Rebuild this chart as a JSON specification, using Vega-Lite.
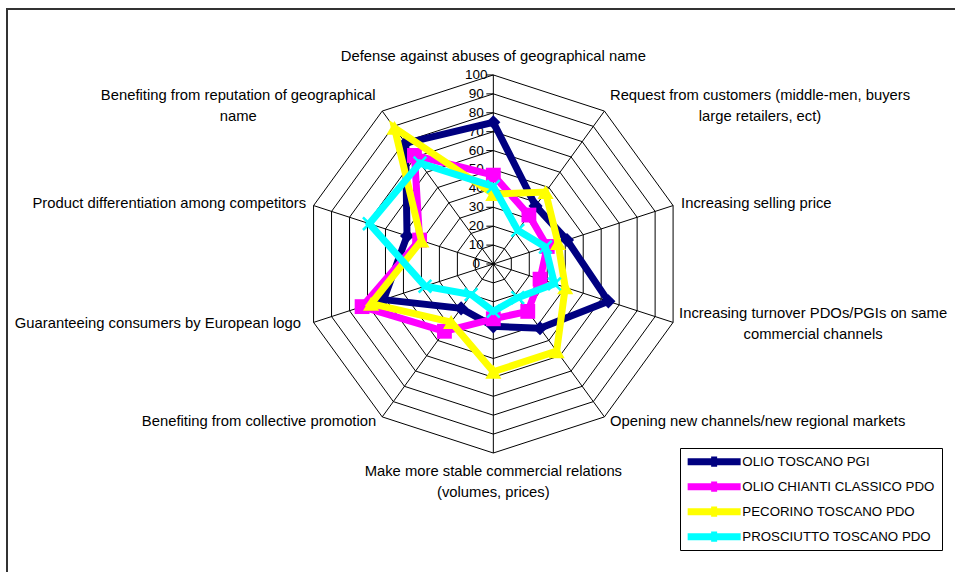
{
"$schema":"https://vega.github.io/schema/vega-lite/v6.json",
"width":953,"height":568,
"autosize":{"type":"none"},
"padding":{"left":7,"top":9,"right":-5,"bottom":-5},
"background":"white",
"config":{
 "view":{"stroke":"#333333","strokeWidth":2},
 "text":{"font":"Liberation Sans","fontSize":14.8,"color":"black"}
},
"datasets":{
 "scores":[
  {"series":"OLIO TOSCANO PGI","k":0,"value":75},{"series":"OLIO TOSCANO PGI","k":1,"value":38},{"series":"OLIO TOSCANO PGI","k":2,"value":41},{"series":"OLIO TOSCANO PGI","k":3,"value":64},{"series":"OLIO TOSCANO PGI","k":4,"value":42},{"series":"OLIO TOSCANO PGI","k":5,"value":33},{"series":"OLIO TOSCANO PGI","k":6,"value":29},{"series":"OLIO TOSCANO PGI","k":7,"value":61},{"series":"OLIO TOSCANO PGI","k":8,"value":48},{"series":"OLIO TOSCANO PGI","k":9,"value":79},
  {"series":"OLIO CHIANTI CLASSICO PDO","k":0,"value":47},{"series":"OLIO CHIANTI CLASSICO PDO","k":1,"value":32},{"series":"OLIO CHIANTI CLASSICO PDO","k":2,"value":30},{"series":"OLIO CHIANTI CLASSICO PDO","k":3,"value":26},{"series":"OLIO CHIANTI CLASSICO PDO","k":4,"value":31},{"series":"OLIO CHIANTI CLASSICO PDO","k":5,"value":29},{"series":"OLIO CHIANTI CLASSICO PDO","k":6,"value":44},{"series":"OLIO CHIANTI CLASSICO PDO","k":7,"value":73},{"series":"OLIO CHIANTI CLASSICO PDO","k":8,"value":41},{"series":"OLIO CHIANTI CLASSICO PDO","k":9,"value":71},
  {"series":"PECORINO TOSCANO PDO","k":0,"value":37},{"series":"PECORINO TOSCANO PDO","k":1,"value":47},{"series":"PECORINO TOSCANO PDO","k":2,"value":36},{"series":"PECORINO TOSCANO PDO","k":3,"value":40},{"series":"PECORINO TOSCANO PDO","k":4,"value":57},{"series":"PECORINO TOSCANO PDO","k":5,"value":57},{"series":"PECORINO TOSCANO PDO","k":6,"value":38},{"series":"PECORINO TOSCANO PDO","k":7,"value":68},{"series":"PECORINO TOSCANO PDO","k":8,"value":40},{"series":"PECORINO TOSCANO PDO","k":9,"value":89},
  {"series":"PROSCIUTTO TOSCANO PDO","k":0,"value":41},{"series":"PROSCIUTTO TOSCANO PDO","k":1,"value":22},{"series":"PROSCIUTTO TOSCANO PDO","k":2,"value":29},{"series":"PROSCIUTTO TOSCANO PDO","k":3,"value":34},{"series":"PROSCIUTTO TOSCANO PDO","k":4,"value":22},{"series":"PROSCIUTTO TOSCANO PDO","k":5,"value":25},{"series":"PROSCIUTTO TOSCANO PDO","k":6,"value":20},{"series":"PROSCIUTTO TOSCANO PDO","k":7,"value":38},{"series":"PROSCIUTTO TOSCANO PDO","k":8,"value":69},{"series":"PROSCIUTTO TOSCANO PDO","k":9,"value":66}
 ],
 "axes":[
  {"k":0,"label":"Defense against abuses of geographical name"},
  {"k":1,"label":"Request from customers (middle-men, buyers\nlarge retailers, ect)"},
  {"k":2,"label":"Increasing selling price"},
  {"k":3,"label":"Increasing turnover PDOs/PGIs on same\ncommercial channels"},
  {"k":4,"label":"Opening new channels/new regional markets"},
  {"k":5,"label":"Make more stable commercial relations\n(volumes, prices)"},
  {"k":6,"label":"Benefiting from collective promotion"},
  {"k":7,"label":"Guaranteeing consumers by European logo"},
  {"k":8,"label":"Product differentiation among competitors"},
  {"k":9,"label":"Benefiting from reputation of geographical\nname"}
 ],
 "rings":[
  {"level":10,"k":[0,1,2,3,4,5,6,7,8,9]},{"level":20,"k":[0,1,2,3,4,5,6,7,8,9]},{"level":30,"k":[0,1,2,3,4,5,6,7,8,9]},{"level":40,"k":[0,1,2,3,4,5,6,7,8,9]},{"level":50,"k":[0,1,2,3,4,5,6,7,8,9]},
  {"level":60,"k":[0,1,2,3,4,5,6,7,8,9]},{"level":70,"k":[0,1,2,3,4,5,6,7,8,9]},{"level":80,"k":[0,1,2,3,4,5,6,7,8,9]},{"level":90,"k":[0,1,2,3,4,5,6,7,8,9]},{"level":100,"k":[0,1,2,3,4,5,6,7,8,9]}
 ],
 "scale_ticks":[{"level":0},{"level":10},{"level":20},{"level":30},{"level":40},{"level":50},{"level":60},{"level":70},{"level":80},{"level":90},{"level":100}]
},
"encoding":{
 "x":{"field":"x","type":"quantitative","scale":{"domain":[-257.3,246.9],"nice":false,"zero":false},"axis":null},
 "y":{"field":"y","type":"quantitative","scale":{"domain":[-165.6,134.9],"nice":false,"zero":false},"axis":null}
},
"layer":[
 {"data":{"name":"rings"},
  "transform":[{"flatten":["k"]},{"calculate":"datum.k*PI/5","as":"a"},{"calculate":"datum.level*sin(datum.a)","as":"x"},{"calculate":"datum.level*cos(datum.a)","as":"y"}],
  "mark":{"type":"line","interpolate":"linear-closed","stroke":"black","strokeWidth":1},
  "encoding":{"detail":{"field":"level","type":"nominal"},"order":{"field":"k","type":"quantitative"}}},
 {"data":{"name":"axes"},
  "transform":[{"calculate":"datum.k*PI/5","as":"a"},{"calculate":"100*sin(datum.a)","as":"x"},{"calculate":"100*cos(datum.a)","as":"y"}],
  "layer":[
   {"mark":{"type":"rule","stroke":"black","strokeWidth":1},"encoding":{"x2":{"datum":0},"y2":{"datum":0}}},
   {"transform":[{"filter":"datum.k===0"}],"mark":{"type":"text","align":"center","baseline":"middle","dy":-18},"encoding":{"text":{"field":"label"}}},
   {"transform":[{"filter":"datum.k===1"}],"mark":{"type":"text","align":"center","baseline":"middle","dx":155.6,"dy":-15.1,"lineBreak":"\n","lineHeight":21},"encoding":{"text":{"field":"label"}}},
   {"transform":[{"filter":"datum.k===2"}],"mark":{"type":"text","align":"left","baseline":"middle","dx":8,"dy":-1.6},"encoding":{"text":{"field":"label"}}},
   {"transform":[{"filter":"datum.k===3"}],"mark":{"type":"text","align":"center","baseline":"middle","dx":140,"dy":-7.9,"lineBreak":"\n","lineHeight":21},"encoding":{"text":{"field":"label"}}},
   {"transform":[{"filter":"datum.k===4"}],"mark":{"type":"text","align":"left","baseline":"middle","dx":5.6,"dy":5},"encoding":{"text":{"field":"label"}}},
   {"transform":[{"filter":"datum.k===5"}],"mark":{"type":"text","align":"center","baseline":"middle","dy":19,"lineBreak":"\n","lineHeight":21},"encoding":{"text":{"field":"label"}}},
   {"transform":[{"filter":"datum.k===6"}],"mark":{"type":"text","align":"right","baseline":"middle","dx":-6,"dy":5},"encoding":{"text":{"field":"label"}}},
   {"transform":[{"filter":"datum.k===7"}],"mark":{"type":"text","align":"right","baseline":"middle","dx":-12.5,"dy":1.6},"encoding":{"text":{"field":"label"}}},
   {"transform":[{"filter":"datum.k===8"}],"mark":{"type":"text","align":"right","baseline":"middle","dx":-7.5,"dy":-1.6},"encoding":{"text":{"field":"label"}}},
   {"transform":[{"filter":"datum.k===9"}],"mark":{"type":"text","align":"center","baseline":"middle","dx":-144,"dy":-15.1,"lineBreak":"\n","lineHeight":21},"encoding":{"text":{"field":"label"}}}
  ]},
 {"data":{"name":"scale_ticks"},
  "transform":[{"calculate":"0","as":"x"},{"calculate":"datum.level","as":"y"}],
  "layer":[
   {"mark":{"type":"tick","orient":"horizontal","size":7,"xOffset":-3.5,"color":"black","thickness":1,"opacity":1}},
   {"mark":{"type":"text","align":"center","baseline":"middle","dx":-17,"fontSize":13.5},"encoding":{"text":{"field":"level","type":"quantitative"}}}
  ]},
 {"data":{"name":"scores"},
  "transform":[{"calculate":"datum.k*PI/5","as":"a"},{"calculate":"datum.value*sin(datum.a)","as":"x"},{"calculate":"datum.value*cos(datum.a)","as":"y"}],
  "layer":[
   {"transform":[{"filter":"datum.series==='OLIO TOSCANO PGI'"}],
    "layer":[
     {"mark":{"type":"line","interpolate":"linear-closed","strokeWidth":7},
      "encoding":{"order":{"field":"k","type":"quantitative"},
       "stroke":{"field":"series","type":"nominal","scale":{"domain":["OLIO TOSCANO PGI","OLIO CHIANTI CLASSICO PDO","PECORINO TOSCANO PDO","PROSCIUTTO TOSCANO PDO"],"range":["#000080","#FF00FF","#FFFF00","#00FFFF"]}}}},
     {"mark":{"type":"point","shape":"diamond","filled":true,"size":200,"opacity":1,"strokeWidth":0},
      "encoding":{"fill":{"field":"series","type":"nominal","scale":{"domain":["OLIO TOSCANO PGI","OLIO CHIANTI CLASSICO PDO","PECORINO TOSCANO PDO","PROSCIUTTO TOSCANO PDO"],"range":["#000080","#FF00FF","#FFFF00","#00FFFF"]},
        "legend":{"orient":"none","legendX":673,"legendY":439,"title":null,"symbolType":"M-2,-1.17H15.67V1.17H-2ZM5.83,-1.7H7.83V1.7H5.83Z","symbolSize":36,"symbolStrokeWidth":0,"symbolOpacity":1,"labelFont":"Liberation Sans","labelFontSize":13.3,"labelColor":"black","padding":7,"strokeColor":"black","fillColor":"white","rowPadding":11,"labelOffset":42,"labelLimit":400}}}}
    ]},
   {"transform":[{"filter":"datum.series==='OLIO CHIANTI CLASSICO PDO'"}],
    "layer":[
     {"mark":{"type":"line","interpolate":"linear-closed","strokeWidth":7},
      "encoding":{"order":{"field":"k","type":"quantitative"},"stroke":{"field":"series","type":"nominal"}}},
     {"mark":{"type":"point","shape":"square","filled":true,"size":220,"opacity":1,"strokeWidth":0},
      "encoding":{"fill":{"field":"series","type":"nominal"}}}
    ]},
   {"transform":[{"filter":"datum.series==='PECORINO TOSCANO PDO'"}],
    "layer":[
     {"mark":{"type":"line","interpolate":"linear-closed","strokeWidth":7},
      "encoding":{"order":{"field":"k","type":"quantitative"},"stroke":{"field":"series","type":"nominal"}}},
     {"mark":{"type":"point","shape":"triangle-up","filled":true,"size":260,"opacity":1,"strokeWidth":0},
      "encoding":{"fill":{"field":"series","type":"nominal"}}}
    ]},
   {"transform":[{"filter":"datum.series==='PROSCIUTTO TOSCANO PDO'"}],
    "layer":[
     {"mark":{"type":"line","interpolate":"linear-closed","strokeWidth":7},
      "encoding":{"order":{"field":"k","type":"quantitative"},"stroke":{"field":"series","type":"nominal"}}},
     {"mark":{"type":"point","shape":"M-1,-1L1,1M-1,1L1,-1","filled":false,"strokeWidth":2.5,"size":160,"opacity":1},
      "encoding":{"stroke":{"field":"series","type":"nominal"}}}
    ]}
  ]}
]
}
